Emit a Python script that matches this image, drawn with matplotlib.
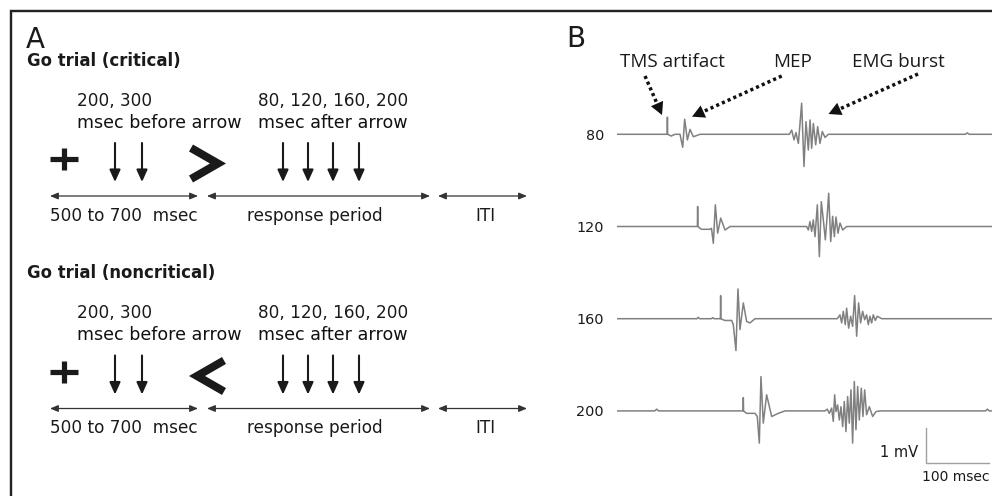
import matplotlib
matplotlib.use("Agg")
import matplotlib.pyplot as plt

# ---------------- data ----------------
trace_labels = ["80", "120", "160", "200"]

trace_80_t = [0, 79.6, 80.0, 80.4, 86, 92, 100,
              104.3, 107.4, 111.7, 115.9, 121.2, 131.8,
              273.6, 277.3, 281.0, 284.1, 287.9, 290.5, 293.1, 296.8, 300.0, 303.7,
              306.4, 309.0, 311.7, 315.4, 318.5, 322.2, 325.9, 330.2, 335.5,
              553, 556, 559, 595]
trace_80_v = [0, 0, 0.49, 0, -0.05, 0, 0,
              -0.37, 0.43, -0.16, 0.14, -0.07, 0,
              0, 0.12, -0.16, 0.05, -0.26, 0.31, 0.89, -0.92, 0.36, -0.45,
              0.41, -0.40, 0.31, -0.30, 0.22, -0.26, 0.08, -0.09, 0,
              0, 0.04, 0, 0]

trace_120_t = [0, 127.6, 128.0, 128.4, 134, 148, 150,
               152.9, 156.1, 159.8, 164.6, 171.4, 179.4,
               301.1, 303.7, 306.3, 309.0, 311.6, 314.3, 318.0, 321.2, 324.3, 327.5,
               330.7, 333.9, 336.0, 339.2, 342.3, 345.0, 347.6, 350.8, 354.0, 358.2, 364.6,
               595]
trace_120_v = [0, 0, 0.57, 0, -0.08, -0.08, -0.05,
               -0.48, 0.62, -0.19, 0.24, -0.10, 0,
               0, -0.10, 0.14, -0.14, 0.19, -0.29, 0.62, -0.86, 0.71, 0.19,
               -0.38, 0.38, 0.95, -0.43, 0.29, -0.29, 0.27, -0.19, 0.10, -0.10, 0,
               0]

trace_160_t = [0, 127, 129, 131, 150, 152, 154,
               164.1, 164.5, 164.9, 171, 182,
               184.6, 188.8, 192.0, 195.2, 200.5, 205.8, 211.1, 219,
               349.7, 353.9, 356.6, 359.2, 362.4, 364.5, 367.7, 370.9, 374.0, 377.2,
               380.4, 383.5, 386.7, 389.9, 393.1, 396.2, 398.9, 401.5, 404.2, 406.8,
               410.0, 413.2, 420.1,
               595]
trace_160_v = [0, 0, 0.04, 0, 0, 0.03, 0,
               0, 0.66, 0, -0.05, -0.05,
               -0.17, -0.91, 0.85, -0.31, 0.45, -0.08, -0.12, 0,
               0, 0.11, -0.12, 0.21, -0.17, 0.30, -0.27, 0.07, -0.22, 0.66,
               -0.50, 0.45, -0.12, 0.21, -0.03, 0.11, -0.17, 0.07, -0.12, 0.11,
               -0.05, 0.07, 0,
               0]

trace_200_t = [0, 60, 63, 66,
               200.1, 200.5, 200.9, 205.8, 219,
               222.7, 225.9, 228.5, 232.2, 237.5, 245.5, 256, 266.6,
               330.1, 333.8, 337.0, 340.7, 343.3, 345.5, 347.6, 350.2, 352.9, 355.5,
               358.2, 360.8, 363.4, 366.1, 368.7, 371.4, 374.0, 376.7, 379.3, 382.0,
               384.6, 387.8, 390.4, 393.1, 396.2, 400.5, 405.8, 411.1, 417.4,
               585, 588, 591, 595]
trace_200_v = [0, 0, 0.05, 0,
               0, 0.38, 0, -0.07, -0.07,
               -0.16, -0.92, 0.98, -0.35, 0.46, -0.16, -0.07, 0,
               0, 0.05, -0.07, 0.08, -0.30, 0.46, -0.02, 0.17, -0.26, 0.12,
               -0.45, 0.27, -0.59, 0.41, -0.35, 0.60, -0.92, 0.84, -0.54, 0.70,
               -0.26, 0.65, -0.16, 0.60, -0.11, 0.12, -0.16, -0.02, 0,
               0, 0.05, 0, 0]

traces_t = [trace_80_t, trace_120_t, trace_160_t, trace_200_t]
traces_v = [trace_80_v, trace_120_v, trace_160_v, trace_200_v]

before_label = "200, 300"
after_label = "80, 120, 160, 200"
trial_titles = ["Go trial (critical)", "Go trial (noncritical)"]
period_labels = ["500 to 700  msec", "response period", "ITI"]

# ---------------- figure ----------------
W, H = 992, 496
fig = plt.figure(figsize=(9.92, 4.96), dpi=100)
ax0 = fig.add_axes([0, 0, 1, 1])
ax0.set_xlim(0, W)
ax0.set_ylim(H, 0)
ax0.axis("off")

INK = "#1a1a1a"
FS = 12.2
PX = 0.72  # points per pixel

# frame (top and left)
ax0.plot([11, 11, W], [H, 10.5, 10.5], color="#222222", lw=2.4 * PX,
         solid_joinstyle="miter", solid_capstyle="butt")

# ---------------- panel A ----------------
ax0.text(26, 48.3, "A", fontsize=20, color=INK, va="baseline", ha="left")


def draw_block(dy, title, pointing_right):
    ax0.text(27, 66 + dy, title, fontsize=11.9, fontweight="bold", color=INK,
             va="baseline", ha="left")
    ax0.text(77, 106 + dy, before_label, fontsize=FS, color=INK, va="baseline")
    ax0.text(77, 127.7 + dy, "msec before arrow", fontsize=12.6, color="#111111", va="baseline")
    ax0.text(258, 106 + dy, after_label, fontsize=FS, color=INK, va="baseline")
    ax0.text(258, 127.7 + dy, "msec after arrow", fontsize=12.6, color="#111111", va="baseline")
    # fixation cross
    yc = 159 + dy
    ax0.plot([50, 78], [yc, yc], color=INK, lw=5.2 * PX, solid_capstyle="butt")
    ax0.plot([64, 64], [yc - 11, yc + 11], color=INK, lw=5.2 * PX, solid_capstyle="butt")
    # direction arrow symbol
    ym = 163.5 + dy
    if pointing_right:
        xs = [191, 218, 191]
    else:
        xs = [224, 197, 224]
    ax0.plot(xs, [ym - 15.5, ym, ym + 15.5], color=INK, lw=8 * PX,
             solid_joinstyle="miter", solid_capstyle="butt")
    # TMS timing arrows
    for x in [115, 142, 283, 308, 333, 359]:
        ax0.annotate("", xy=(x, 182 + dy), xytext=(x, 143 + dy),
                     arrowprops=dict(arrowstyle="-|>,head_length=0.6,head_width=0.27",
                                     mutation_scale=12, lw=1.5, color=INK,
                                     shrinkA=0, shrinkB=0))
    # period double arrows
    for x0, x1 in [(50, 198), (207, 430), (438, 527)]:
        ax0.annotate("", xy=(x1, 196 + dy), xytext=(x0, 196 + dy),
                     arrowprops=dict(arrowstyle="<|-|>,head_length=0.6,head_width=0.25",
                                     mutation_scale=8, lw=0.9, color="#333333",
                                     shrinkA=0, shrinkB=0))
    ax0.text(50, 220.7 + dy, period_labels[0], fontsize=FS, color=INK, va="baseline", ha="left")
    ax0.text(315, 220.7 + dy, period_labels[1], fontsize=FS, color=INK, va="baseline", ha="center")
    ax0.text(485, 220.7 + dy, period_labels[2], fontsize=FS, color=INK, va="baseline", ha="center")


draw_block(0, trial_titles[0], True)
draw_block(212.5, trial_titles[1], False)

# ---------------- panel B ----------------
ax0.text(566, 46.7, "B", fontsize=20, color=INK, va="baseline", ha="left")
ann_font = dict(family="Open Sans", fontsize=13.6, color=INK, va="baseline")
ax0.text(620, 66.7, "TMS artifact", ha="left", **ann_font)
ax0.text(793, 66.7, "MEP", ha="center", **ann_font)
ax0.text(852, 66.7, "EMG burst", ha="left", **ann_font)

for (xs, ys), (xe, ye) in [((645, 76), (662, 115)),
                           ((781.7, 76), (692, 116.7)),
                           ((918, 74), (828.5, 114))]:
    # dotted shaft
    fx = xs + (xe - xs) * 0.86
    fy = ys + (ye - ys) * 0.86
    ax0.plot([xs, fx], [ys, fy], color="#111111", lw=2.5,
             linestyle=(0, (0.9, 0.9)), solid_capstyle="butt")
    ax0.annotate("", xy=(xe, ye), xytext=(fx, fy),
                 arrowprops=dict(arrowstyle="-|>,head_length=0.75,head_width=0.4",
                                 mutation_scale=12, lw=0, color="#111111",
                                 shrinkA=0, shrinkB=0))

# traces axes: x in ms, y in mV
px_per_ms = 0.63
px_per_mv = 35.0
x_left_px = 617
top_px = 40
base0_px = 134.3
spacing_px = 92.2
axB = fig.add_axes([x_left_px / W, 0, (W - x_left_px) / W, (H - top_px) / H])
axB.patch.set_alpha(0)
axB.set_xlim(0, (W - x_left_px) / px_per_ms)
axB.set_ylim(-(H - base0_px) / px_per_mv, (base0_px - top_px) / px_per_mv)
axB.axis("off")

offset_step = spacing_px / px_per_mv
TRACE = "#808080"
for i, (lab, t, v) in enumerate(zip(trace_labels, traces_t, traces_v)):
    off = -i * offset_step
    axB.plot(t, [val + off for val in v], color=TRACE, lw=1.1, solid_joinstyle="round")
    axB.text(-20.8, off - 0.16, lab, fontsize=10.4, color=INK, ha="right",
             va="baseline", clip_on=False)

# scale bar: 1 mV, 100 msec
sb_t = 490
sb_v = -9.39
axB.plot([sb_t, sb_t, sb_t + 100], [sb_v + 1, sb_v, sb_v], color="#a0a0a0", lw=1.0,
         solid_joinstyle="miter")
axB.text(sb_t - 12, sb_v + 0.17, "1 mV", fontsize=10.5, color=INK, ha="right", va="baseline")
axB.text(sb_t - 6, sb_v - 0.53, "100 msec", fontsize=10, color=INK, ha="left", va="baseline")

fig.savefig("out.png", dpi=100)
